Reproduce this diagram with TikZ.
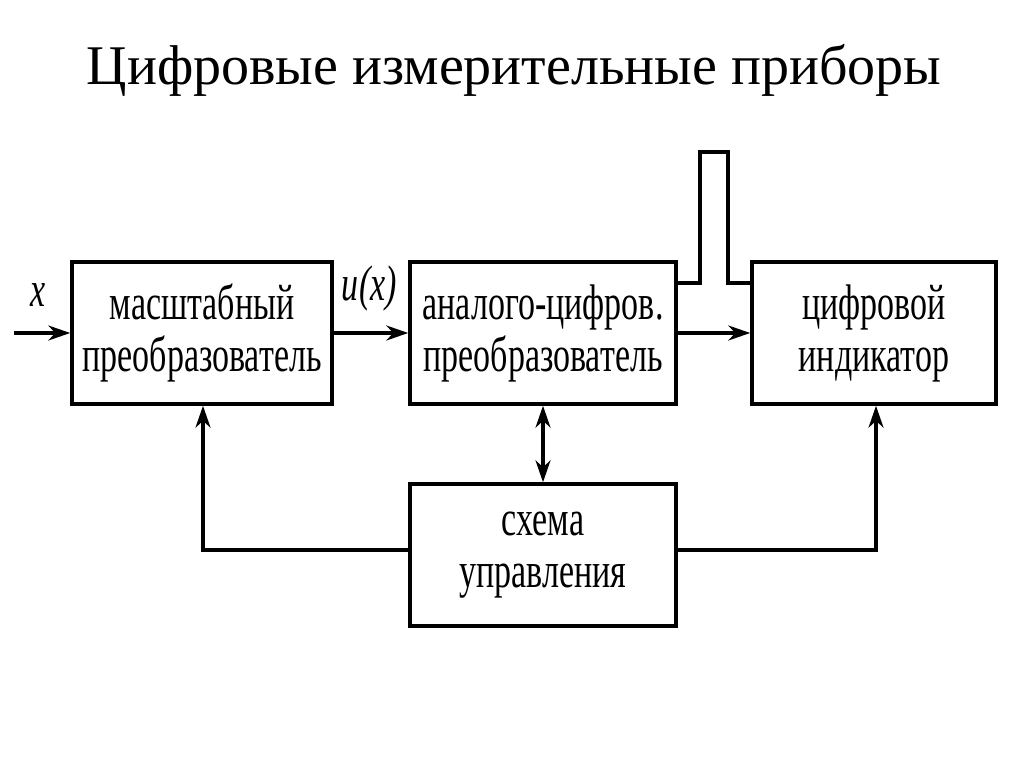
\documentclass[tikz,border=0pt]{standalone}
\usepackage{fontspec}
\setmainfont{Liberation Serif}
\newfontfamily\narrow[FakeStretch=0.68]{Liberation Serif}
\usetikzlibrary{arrows.meta}
\begin{document}
\begin{tikzpicture}[x=1pt,y=-1pt,line width=3.5pt,
  blk/.style={draw,minimum width=#1,minimum height=142pt,inner sep=0pt,font=\narrow\fontsize{50}{52}\selectfont,align=center},
  arr/.style={-{Stealth[length=22pt,width=15pt]}}]
\useasboundingbox (0,0) rectangle (1024,767);
\node[font=\fontsize{56}{60}\selectfont] (title) at (514,70) {Цифровые измерительные приборы};
\node[blk=260pt] (b1) at (202,333) {масштабный\\преобразователь};
\node[blk=266pt] (b2) at (543,333) {аналого-цифров.\\преобразователь};
\node[blk=244pt] (b3) at (874,333) {цифровой\\индикатор};
\node[blk=266pt] (b4) at (543,555) {схема\\управления};
\coordinate (in) at (14,333);
\node[font=\narrow\fontsize{50}{52}\selectfont\itshape] (xl) at (38,295) {x};
\node[font=\narrow\fontsize{50}{52}\selectfont\itshape] (ul) at (369,288) {u\kern1pt(x)};
\draw[arr] (in) -- (b1.west);
\draw[arr] (b1.east) -- (b2.west);
\draw[arr] (b2.east) -- (b3.west);
\draw (b2.east |- 0,283) -- (700,283) -- (700,152) -- (728,152) -- (728,283) -- (b3.west |- 0,283);
\draw[{Stealth[length=22pt,width=15pt]}-{Stealth[length=22pt,width=15pt]}] (b2.south) -- (b4.north);
\draw[arr] (b4.west |- 0,550) -- (203,550) -- (b1.south -| 203,0);
\draw[arr] (b4.east |- 0,550) -- (876,550) -- (b3.south -| 876,0);
\end{tikzpicture}
\end{document}
